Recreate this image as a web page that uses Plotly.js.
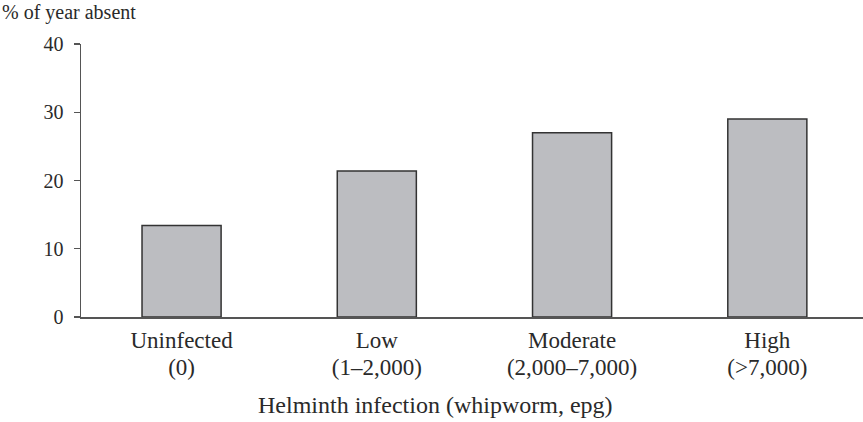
<!DOCTYPE html>
<html>
<head>
<meta charset="utf-8">
<script src="https://cdn.plot.ly/plotly-3.0.1.min.js"></script>
<style>html,body{margin:0;padding:0;background:#fff;}#chart{width:863px;height:422px;}</style>
</head>
<body>
<div id="chart"></div>
<script>
const categories = ["Uninfected", "Low", "Moderate", "High"];
const ranges = ["(0)", "(1–2,000)", "(2,000–7,000)", "(>7,000)"];
const percentAbsent = [13.4, 21.4, 27.0, 29.0];
const yTicks = [0, 10, 20, 30, 40];
const yTitle = "% of year absent";
const xTitle = "Helminth infection (whipworm, epg)";

const fam = "Liberation Serif, Times New Roman, serif";
const catFont = {family: fam, size: 23, color: "#2a2a2a"};
const titleFont = {family: fam, size: 24, color: "#2a2a2a"};
const smallFont = {family: fam, size: 20, color: "#2a2a2a"};
const positions = categories.map((c, i) => i);

const bars = {
  type: "bar",
  x: positions,
  y: percentAbsent,
  width: 0.405,
  marker: {color: "#bcbdc1", line: {color: "#333333", width: 1.5}},
  hoverinfo: "none"
};
// invisible helper trace so the second (range-label) axis is drawn
const helper = {
  type: "scatter", mode: "markers",
  x: positions, y: percentAbsent,
  xaxis: "x2", yaxis: "y",
  marker: {opacity: 0, size: 1},
  hoverinfo: "none"
};

const layout = {
  width: 863, height: 422,
  margin: {l: 81, r: 0, t: 44, b: 105, pad: 0},
  paper_bgcolor: "#fff", plot_bgcolor: "#fff",
  font: smallFont,
  showlegend: false,
  xaxis: {
    range: [-0.515, 3.49],
    tickmode: "array",
    tickvals: positions,
    ticktext: categories,
    ticks: "",
    showgrid: false, zeroline: false,
    showline: true, linecolor: "#555", linewidth: 1.5,
    tickfont: catFont,
    ticklabelstandoff: 2
  },
  xaxis2: {
    overlaying: "x", anchor: "y", side: "bottom",
    range: [-0.515, 3.49],
    tickmode: "array",
    tickvals: positions,
    ticktext: ranges,
    ticks: "outside", ticklen: 29, tickwidth: 1, tickcolor: "rgba(0,0,0,0)",
    showgrid: false, zeroline: false, showline: false,
    tickfont: catFont
  },
  yaxis: {
    range: [0, 40],
    tickmode: "array",
    tickvals: yTicks,
    ticks: "outside", ticklen: 6, tickwidth: 1.2, tickcolor: "#555",
    showgrid: false, zeroline: false,
    showline: true, linecolor: "#555", linewidth: 1.5,
    tickfont: smallFont,
    ticklabelstandoff: 6
  },
  annotations: [
    {text: yTitle, xref: "paper", yref: "paper", x: -0.1036, y: 1.115, xanchor: "left", yanchor: "middle", showarrow: false, font: smallFont},
    {text: xTitle, xref: "paper", yref: "paper", x: 0.4533, y: -0.321, xanchor: "center", yanchor: "middle", showarrow: false, font: titleFont}
  ]
};

Plotly.newPlot("chart", [bars, helper], layout, {displayModeBar: false, staticPlot: true});
</script>
</body>
</html>
